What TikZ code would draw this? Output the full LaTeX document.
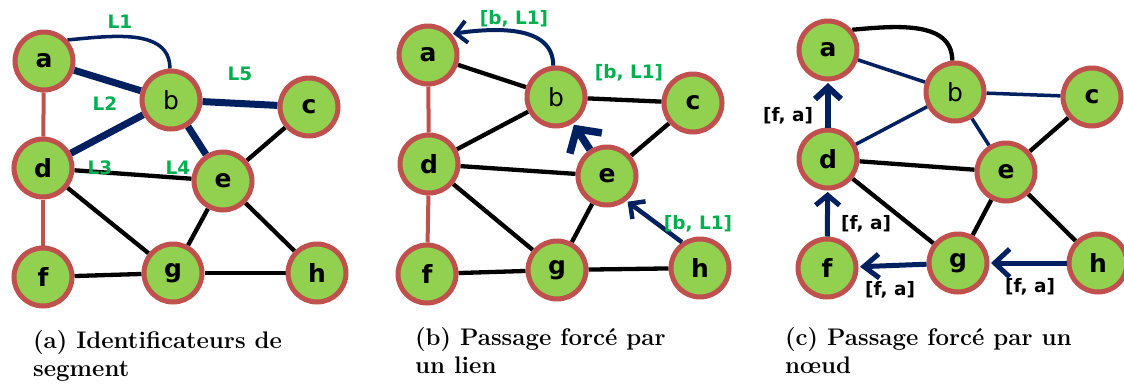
\documentclass[tikz,border=0pt]{standalone}
\usepackage{fontspec}
\newfontfamily\dejavu{DejaVu Sans}
\usetikzlibrary{arrows.meta,backgrounds}

\definecolor{nodegreen}{HTML}{92D050}
\definecolor{noderim}{HTML}{C0504D}
\definecolor{navy}{HTML}{002060}
\definecolor{lblgreen}{HTML}{00B050}

\tikzset{
  vtx/.style={circle,fill=nodegreen,draw=noderim,line width=5pt,minimum size=58pt,
    inner sep=0pt,font=\dejavu\bfseries\fontsize{25}{25}\selectfont},
  vtxlight/.style={vtx,font=\dejavu\fontsize{25}{25}\selectfont},
  plain/.style={line width=4.3pt,black},
  redge/.style={line width=4pt,noderim},
  thickb/.style={line width=7pt,navy},
  thinb/.style={line width=3.5pt,navy},
  arr/.style={line width=5pt,navy,shorten >=1.5pt,
    -{Straight Barb[length=14pt,width=24pt]}},
  lbl/.style={font=\dejavu\bfseries\fontsize{18.5}{18.5}\selectfont,text=lblgreen,inner sep=0pt},
  blbl/.style={lbl,text=black},
  capt/.style={font=\bfseries\fontsize{24}{28}\selectfont,align=left,
    anchor=north west,inner sep=0pt}
}

\begin{document}
\begin{tikzpicture}[x=1pt,y=-1pt]
\useasboundingbox (0,0) rectangle (1124,389);

% ---------- (a) segment identifiers ----------
\node[vtx] (a1) at (44,61) {a};
\node[vtxlight] (b1) at (171,100) {b};
\node[vtx] (c1) at (309,107) {c};
\node[vtx] (d1) at (43,168) {d};
\node[vtx] (e1) at (223,181) {e};
\node[vtx] (f1) at (43,277) {f};
\node[vtx] (g1) at (173,273) {g};
\node[vtx] (h1) at (317,273) {h};
\begin{pgfonlayer}{background}
  \draw[redge] (a1) -- (d1);
  \draw[redge] (d1) -- (f1);
  \draw[plain] (d1) -- (e1);
  \draw[plain] (d1) -- (g1);
  \draw[plain] (c1) -- (e1);
  \draw[plain] (e1) -- (g1);
  \draw[plain] (e1) -- (h1);
  \draw[plain] (f1) -- (g1);
  \draw[plain] (g1) -- (h1);
  \draw[thickb] (a1) -- (b1);
  \draw[thickb] (b1) -- (d1);
  \draw[thickb] (b1) -- (c1);
  \draw[thickb] (b1) -- (e1);
  \draw[thinb] (a1.42) to[out=5,in=90] (b1.92);
\end{pgfonlayer}
\node[lbl] (l1) at (120,22) {L1};
\node[lbl] (l2) at (105,104) {L2};
\node[lbl] (l3) at (100,168) {L3};
\node[lbl] (l4) at (178,168) {L4};
\node[lbl] (l5) at (240,74) {L5};
\node[capt] (capa) at (33,330) {(a) Identificateurs de\\segment};

% ---------- (b) forced passage through a link ----------
\node[vtx] (a2) at (428,55) {a};
\node[vtxlight] (b2) at (556,97) {b};
\node[vtx] (c2) at (693,103) {c};
\node[vtx] (d2) at (429,164) {d};
\node[vtx] (e2) at (607,176) {e};
\node[vtx] (f2) at (427,274) {f};
\node[vtx] (g2) at (557,270) {g};
\node[vtx] (h2) at (700,268) {h};
\begin{pgfonlayer}{background}
  \draw[redge] (a2) -- (d2);
  \draw[redge] (d2) -- (f2);
  \draw[plain] (a2) -- (b2);
  \draw[plain] (b2) -- (c2);
  \draw[plain] (b2) -- (d2);
  \draw[plain] (d2) -- (e2);
  \draw[plain] (d2) -- (g2);
  \draw[plain] (c2) -- (e2);
  \draw[plain] (e2) -- (g2);
  \draw[plain] (f2) -- (g2);
  \draw[plain] (g2) -- (h2);
\end{pgfonlayer}
\draw[arr,line width=4pt,-{Straight Barb[length=11pt,width=22pt]}]
  (b2.95) to[out=90,in=8] (a2.42);
\draw[arr,line width=7.5pt,-{Straight Barb[length=17pt,width=38pt]}] (e2) -- (b2);
\draw[arr,line width=4.5pt,-{Straight Barb[length=11pt,width=22pt]}] (h2.125) -- (e2.-52);
\node[lbl] (bl1) at (514,19) {[b, L1]};
\node[lbl] (bl2) at (629,73) {[b, L1]};
\node[lbl] (bl3) at (698,224) {[b, L1]};
\node[capt] (capb) at (415,327) {(b) Passage forcé par\\un lien};

% ---------- (c) forced passage through a node ----------
\node[vtx] (a3) at (828,50) {a};
\node[vtxlight] (b3) at (955,92) {b};
\node[vtx] (c3) at (1092,97) {c};
\node[vtx] (d3) at (828,159) {d};
\node[vtx] (e3) at (1006,172) {e};
\node[vtx] (f3) at (827,268) {f};
\node[vtx] (g3) at (958,263) {g};
\node[vtx] (h3) at (1098,263) {h};
\begin{pgfonlayer}{background}
  \draw[plain] (d3) -- (e3);
  \draw[plain] (d3) -- (g3);
  \draw[plain] (c3) -- (e3);
  \draw[plain] (e3) -- (g3);
  \draw[plain] (e3) -- (h3);
  \draw[thinb] (a3) -- (b3);
  \draw[thinb] (b3) -- (c3);
  \draw[thinb] (b3) -- (d3);
  \draw[thinb] (b3) -- (e3);
  \draw[plain] (a3.40) to[out=5,in=90] (b3.95);
\end{pgfonlayer}
\draw[arr,line width=6pt,-{Straight Barb[length=12pt,width=26pt]}] (d3) -- (a3);
\draw[arr,-{Straight Barb[length=10pt,width=24pt]}] (f3) -- (d3);
\draw[arr,-{Straight Barb[length=15pt,width=24pt]}] (g3) -- (f3);
\draw[arr,-{Straight Barb[length=15pt,width=28pt]}] (h3) -- (g3);
\node[blbl] (fa1) at (788,116) {[f, a]};
\node[blbl] (fa2) at (866,224) {[f, a]};
\node[blbl] (fa3) at (890,290) {[f, a]};
\node[blbl] (fa4) at (1030,287) {[f, a]};
\node[capt] (capc) at (785,327) {(c) Passage forcé par un\\nœud};
\end{tikzpicture}
\end{document}
